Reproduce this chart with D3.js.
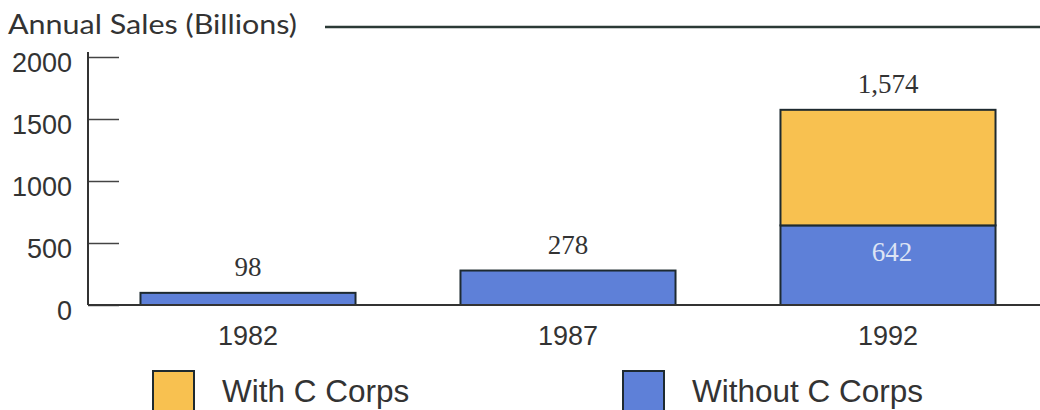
<!DOCTYPE html>
<html><head><meta charset="utf-8">
<script src="https://cdn.jsdelivr.net/npm/d3@7"></script>
<style>
html,body{margin:0;padding:0;background:#fff;}
svg{display:block;}
</style></head>
<body>
<svg id="c" width="1040" height="410"></svg>
<script>
const categories = ["1982", "1987", "1992"];
const withoutC = [98, 278, 642];
const withC = [0, 0, 932];
const totalLabels = ["98", "278", "1,574"];
const innerLabels = ["", "", "642"];
const yTicks = [0, 500, 1000, 1500, 2000];
const legendLabels = ["With C Corps", "Without C Corps"];
const yTitle = "Annual Sales (Billions)";

const colOrange = "#F8C150", colBlue = "#5E80D8", stroke = "#1e2a30", ink = "#333";
const svg = d3.select("#c");

const y = d3.scaleLinear().domain([0, 2000]).range([305, 57]);
const x = d3.scaleBand().domain(categories).range([88, 1048]).paddingInner(0.328).paddingOuter(0.164);

// title line
svg.append("text").attr("x", 8).attr("y", 34).attr("font-family", "Lato, 'Open Sans', sans-serif")
  .attr("font-size", 27).attr("fill", ink).attr("textLength", 289).attr("lengthAdjust", "spacingAndGlyphs").text(yTitle);
svg.append("line").attr("x1", 325).attr("x2", 1040).attr("y1", 27).attr("y2", 27)
  .attr("stroke", "#2b3a36").attr("stroke-width", 2.5);

// y axis
const yAxis = d3.axisLeft(y).tickValues(yTicks).tickSizeInner(-31).tickSizeOuter(0).tickPadding(16).tickFormat(d3.format("d"));
const gy = svg.append("g").attr("transform", "translate(88,0)").call(yAxis);
gy.select(".domain").remove();
gy.selectAll(".tick line").attr("stroke", "#444").attr("stroke-width", 1.5);
gy.selectAll(".tick text").attr("font-family", "'Liberation Sans', Arial, sans-serif").attr("font-size", 27)
  .attr("fill", ink).attr("dy", "0.55em");
svg.append("line").attr("x1", 88).attr("x2", 88).attr("y1", 52).attr("y2", y(0))
  .attr("stroke", "#333").attr("stroke-width", 2);

// bars
const data = categories.map((c, i) => ({c, a: withoutC[i], b: withC[i], t: totalLabels[i], inner: innerLabels[i]}));
const g = svg.append("g");
g.selectAll("rect.blue").data(data).join("rect").attr("class", "blue")
  .attr("x", d => x(d.c)).attr("width", x.bandwidth())
  .attr("y", d => y(d.a)).attr("height", d => y(0) - y(d.a))
  .attr("fill", colBlue).attr("stroke", stroke).attr("stroke-width", 2);
g.selectAll("rect.orange").data(data.filter(d => d.b > 0)).join("rect").attr("class", "orange")
  .attr("x", d => x(d.c)).attr("width", x.bandwidth())
  .attr("y", d => y(d.a + d.b)).attr("height", d => y(d.a) - y(d.a + d.b))
  .attr("fill", colOrange).attr("stroke", stroke).attr("stroke-width", 2);

// value labels
g.selectAll("text.val").data(data).join("text").attr("class", "val")
  .attr("x", d => x(d.c) + x.bandwidth() / 2).attr("y", d => y(d.a + d.b) - 17)
  .attr("text-anchor", "middle").attr("font-family", "'Liberation Serif', 'Times New Roman', serif")
  .attr("font-size", 27).attr("fill", ink).text(d => d.t);
g.selectAll("text.inner").data(data.filter(d => d.inner)).join("text").attr("class", "inner")
  .attr("x", d => x(d.c) + x.bandwidth() / 2 + 4).attr("y", d => y(d.a) + 36)
  .attr("text-anchor", "middle").attr("font-family", "'Liberation Serif', 'Times New Roman', serif")
  .attr("font-size", 27).attr("fill", "#dde4f4").text(d => d.inner);

// x baseline & labels
svg.append("line").attr("x1", 88).attr("x2", 1040).attr("y1", y(0)).attr("y2", y(0))
  .attr("stroke", "#333").attr("stroke-width", 2);
svg.selectAll("text.xl").data(categories).join("text").attr("class", "xl")
  .attr("x", d => x(d) + x.bandwidth() / 2).attr("y", 345).attr("text-anchor", "middle")
  .attr("font-family", "'Liberation Sans', Arial, sans-serif").attr("font-size", 27).attr("fill", ink).text(d => d);

// legend
const legX = [153, 623];
const legCol = [colOrange, colBlue];
legendLabels.forEach((l, i) => {
  svg.append("rect").attr("x", legX[i]).attr("y", 371).attr("width", 41).attr("height", 45)
    .attr("fill", legCol[i]).attr("stroke", stroke).attr("stroke-width", 2);
  svg.append("text").attr("x", legX[i] + 69).attr("y", 402)
    .attr("font-family", "'Liberation Sans', Arial, sans-serif").attr("font-size", 31.5)
    .attr("fill", ink).text(l);
});
</script>
</body></html>
